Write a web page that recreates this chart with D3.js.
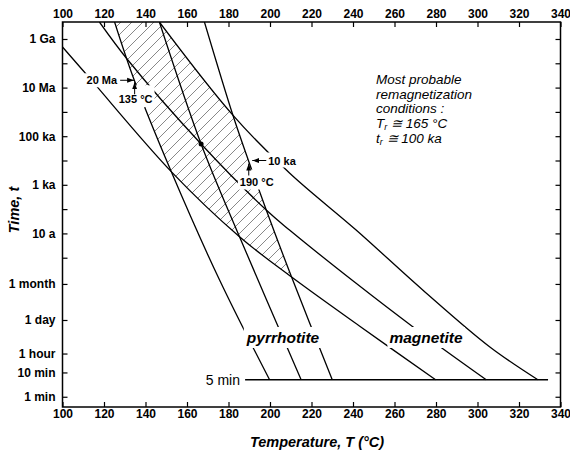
<!DOCTYPE html>
<html>
<head>
<meta charset="utf-8">
<script src="https://cdn.jsdelivr.net/npm/d3@7"></script>
<style>
  body { margin: 0; background: #fff; }
  text { font-family: "Liberation Sans", Arial, Helvetica, sans-serif; fill: #000; }
</style>
</head>
<body>
<div id="chart"></div>
<script>
// all times are in years
const MINUTE = 1 / 525960;
const FIVE_MIN = 5 * MINUTE;

const tempTicks = [100, 120, 140, 160, 180, 200, 220, 240, 260, 280, 300, 320, 340];
const timeTickLabels = ["1 Ga", "10 Ma", "100 ka", "1 ka", "10 a", "1 month", "1 day", "1 hour", "10 min", "1 min"];
const timeTickValues = [1e9, 1e7, 1e5, 1e3, 10, 1 / 12, 1 / 365.25, 1 / 8766, 10 * MINUTE, MINUTE];
const timeMinorTicks = [1e8, 1e6, 1e4, 1e2, 1];

// blocking curves: [T (°C), t (years)]
const pyrrhotite1 = [[125.1, 5e9], [134.6, 2e7], [152.4, 3.5e3], [175.7, 0.12], [199.8, FIVE_MIN]];
const pyrrhotite2 = [[146.7, 5e9], [166.8, 4.8e4], [185.3, 7.3], [215.0, FIVE_MIN]];
const pyrrhotite3 = [[168.4, 5e9], [182.1, 7.4e5], [189.6, 1e4], [198.2, 92], [210.4, 0.16], [230.0, FIVE_MIN]];

const magnetite1 = [[100, 4.7e8], [113.0, 2.5e7], [152.4, 3.5e3], [185.3, 7.3], [210.4, 0.16], [243.1, 1.55e-3], [279.8, FIVE_MIN]];
const magnetite2 = [[117.8, 5e9], [131.5, 1.37e8], [166.8, 4.8e4], [198.2, 92], [209.4, 13.8], [241.5, 0.0885], [268.8, 1.45e-3], [304.2, FIVE_MIN]];
const magnetite3 = [[146.7, 5e9], [182.1, 7.4e5], [209.4, 3.06e3], [241.5, 13.8], [273.6, 0.047], [305.8, 2.17e-4], [329.1, FIVE_MIN]];

const fiveMinLine = [[188, FIVE_MIN], [334, FIVE_MIN]];
const remagPoint = [166.8, 4.8e4];
const point135 = [135, 2e7];
const point190 = [190, 1e4];

const width = 570, height = 452;
const plot = {left: 62.5, right: 560.5, top: 22, bottom: 407};
const tMin = 7.2e-7, tMax = 5e9;

const x = d3.scaleLinear().domain([100, 340]).range([plot.left, plot.right]);
const y = d3.scaleLog().domain([tMin, tMax]).range([plot.bottom, plot.top]);

const svg = d3.select("#chart")
    .append("svg")
    .attr("width", width)
    .attr("height", height);

const defs = svg.append("defs");
defs.append("clipPath").attr("id", "plotArea")
    .append("rect")
    .attr("x", plot.left).attr("y", plot.top)
    .attr("width", plot.right - plot.left).attr("height", plot.bottom - plot.top);

defs.append("pattern")
    .attr("id", "hatch")
    .attr("patternUnits", "userSpaceOnUse")
    .attr("width", 11).attr("height", 11)
    .append("path")
    .attr("d", "M-1,1L1,-1M0,11L11,0M10,12L12,10")
    .attr("stroke", "#555")
    .attr("stroke-width", 0.7);

defs.append("marker")
    .attr("id", "arrowhead")
    .attr("viewBox", "0 -3 7 6")
    .attr("refX", 7).attr("refY", 0)
    .attr("markerWidth", 7).attr("markerHeight", 6)
    .attr("markerUnits", "userSpaceOnUse")
    .attr("orient", "auto")
    .append("path")
    .attr("d", "M0,-2.5L7,0L0,2.5Z")
    .attr("fill", "#000");

const line = d3.line()
    .x(d => x(d[0]))
    .y(d => y(d[1]))
    .curve(d3.curveCatmullRom.alpha(0.5));

// hatched zone: between outer pyrrhotite curves and outer magnetite curves
const bandP = line(pyrrhotite1) + "L" + line(pyrrhotite3.slice().reverse()).slice(1) + "Z";
const bandM = line(magnetite3) + "L" + line(magnetite1.slice().reverse()).slice(1)
    + "L" + x(100) + "," + y(tMax) + "Z";
defs.append("clipPath").attr("id", "bandP").append("path").attr("d", bandP);
defs.append("clipPath").attr("id", "bandM").append("path").attr("d", bandM);

svg.append("g")
    .attr("clip-path", "url(#plotArea)")
    .append("g")
    .attr("clip-path", "url(#bandP)")
    .append("rect")
    .attr("clip-path", "url(#bandM)")
    .attr("x", plot.left).attr("y", plot.top)
    .attr("width", plot.right - plot.left).attr("height", plot.bottom - plot.top)
    .attr("fill", "url(#hatch)");

// curves
const curves = [pyrrhotite1, pyrrhotite2, pyrrhotite3, magnetite1, magnetite2, magnetite3, fiveMinLine];
svg.append("g")
    .attr("clip-path", "url(#plotArea)")
    .selectAll("path")
    .data(curves)
    .join("path")
    .attr("d", line)
    .attr("fill", "none")
    .attr("stroke", "#000")
    .attr("stroke-width", 1.3);

svg.append("circle")
    .attr("cx", x(remagPoint[0]))
    .attr("cy", y(remagPoint[1]))
    .attr("r", 2.5)
    .attr("fill", "#000");

// axes, ticks pointing inward
function styleAxis(g) {
    g.select(".domain").remove();
    g.selectAll(".tick line").attr("stroke", "#000").attr("stroke-width", 1.2);
    g.selectAll("text")
        .attr("fill", "#000")
        .style("font-family", "'Liberation Sans', Arial, sans-serif")
        .style("font-weight", "bold")
        .style("font-size", "12px");
}

svg.append("g")
    .attr("transform", `translate(0,${plot.bottom})`)
    .call(d3.axisBottom(x).tickValues(tempTicks).tickSize(-5).tickPadding(2).tickFormat(d3.format("d")))
    .call(styleAxis);

svg.append("g")
    .attr("transform", `translate(0,${plot.top})`)
    .call(d3.axisTop(x).tickValues(tempTicks).tickSize(-5).tickPadding(4).tickFormat(d3.format("d")))
    .call(styleAxis);

const allTimeTicks = timeTickValues.concat(timeMinorTicks);
svg.append("g")
    .attr("transform", `translate(${plot.left},0)`)
    .call(d3.axisLeft(y).tickValues(allTimeTicks).tickSize(-5).tickPadding(7)
        .tickFormat(d => {
            const i = timeTickValues.indexOf(d);
            return i >= 0 ? timeTickLabels[i] : "";
        }))
    .call(styleAxis);

svg.append("g")
    .attr("transform", `translate(${plot.right},0)`)
    .call(d3.axisRight(y).tickValues(allTimeTicks).tickSize(-5).tickFormat(""))
    .call(styleAxis);

// frame
svg.append("rect")
    .attr("x", plot.left).attr("y", plot.top)
    .attr("width", plot.right - plot.left).attr("height", plot.bottom - plot.top)
    .attr("fill", "none")
    .attr("stroke", "#000")
    .attr("stroke-width", 1.5);

// labels with white background so that they break the curves
const labels = svg.append("g");
function boxedLabel(txt, px, py, anchor, size, style, weight, pad) {
    const g = labels.append("g");
    const t = g.append("text")
        .attr("x", px).attr("y", py)
        .attr("text-anchor", anchor)
        .style("font-size", size + "px")
        .style("font-style", style)
        .style("font-weight", weight)
        .text(txt);
    const b = t.node().getBBox();
    g.insert("rect", "text")
        .attr("x", b.x - pad[0]).attr("y", b.y - pad[1])
        .attr("width", b.width + 2 * pad[0]).attr("height", b.height + pad[1] + pad[2])
        .attr("fill", "#fff");
    return t;
}

const p135 = [x(point135[0]), y(point135[1])];
const p190 = [x(point190[0]), y(point190[1])];

boxedLabel("20 Ma", p135[0] - 18, p135[1] + 4, "end", 11, "normal", "bold", [2, 1, 1]);
boxedLabel("135 °C", p135[0] + 0.5, p135[1] + 23, "middle", 11, "normal", "bold", [2, 8, 2]);
boxedLabel("10 ka", p190[0] + 19, p190[1] + 4, "start", 11, "normal", "bold", [2, 2, 1]);
boxedLabel("190 °C", p190[0] + 7.5, p190[1] + 25, "middle", 11, "normal", "bold", [2, 6, 2]);
boxedLabel("pyrrhotite", 283, 343, "middle", 15.5, "italic", "bold", [2, 2, 2]);
boxedLabel("magnetite", 426, 343, "middle", 15.5, "italic", "bold", [2, 2, 2]);

labels.append("text")
    .attr("x", 240).attr("y", y(FIVE_MIN) + 5)
    .attr("text-anchor", "end")
    .style("font-size", "14px")
    .text("5 min");

// arrows pointing at the two reference points
const arrows = [
    [[p135[0] - 15, p135[1]], [p135[0] - 1, p135[1]]],
    [[p135[0] - 0.5, p135[1] + 14], [p135[0] - 0.5, p135[1] + 2]],
    [[p190[0] + 17, p190[1]], [p190[0] + 3, p190[1]]],
    [[p190[0] - 0.5, p190[1] + 15], [p190[0] - 0.5, p190[1] + 3]]
];
labels.selectAll("line.arrow")
    .data(arrows)
    .join("line")
    .attr("class", "arrow")
    .attr("x1", d => d[0][0]).attr("y1", d => d[0][1])
    .attr("x2", d => d[1][0]).attr("y2", d => d[1][1])
    .attr("stroke", "#000")
    .attr("stroke-width", 1)
    .attr("marker-end", "url(#arrowhead)");

// note, one text per line
const noteLines = svg.append("g").style("font-size", "13.5px").style("font-style", "italic");
noteLines.append("text").attr("x", 376).attr("y", 84).text("Most probable");
noteLines.append("text").attr("x", 376).attr("y", 98.5).text("remagnetization");
noteLines.append("text").attr("x", 376).attr("y", 113).text("conditions :");
const tr = noteLines.append("text").attr("x", 376).attr("y", 127.5);
tr.append("tspan").text("T");
tr.append("tspan").attr("dy", 2).style("font-size", "9px").text("r");
tr.append("tspan").attr("dy", -2).text(" ≅ 165 °C");
const tr2 = noteLines.append("text").attr("x", 376).attr("y", 143);
tr2.append("tspan").text("t");
tr2.append("tspan").attr("dy", 2).style("font-size", "9px").text("r");
tr2.append("tspan").attr("dy", -2).text(" ≅ 100 ka");

// axis titles
svg.append("text")
    .attr("x", 317).attr("y", 447)
    .attr("text-anchor", "middle")
    .style("font-size", "14.5px")
    .style("font-weight", "bold")
    .style("font-style", "italic")
    .text("Temperature, T (°C)");

svg.append("text")
    .attr("transform", "translate(19,210) rotate(-90)")
    .attr("text-anchor", "middle")
    .style("font-size", "14.5px")
    .style("font-weight", "bold")
    .style("font-style", "italic")
    .text("Time, t");
</script>
</body>
</html>
